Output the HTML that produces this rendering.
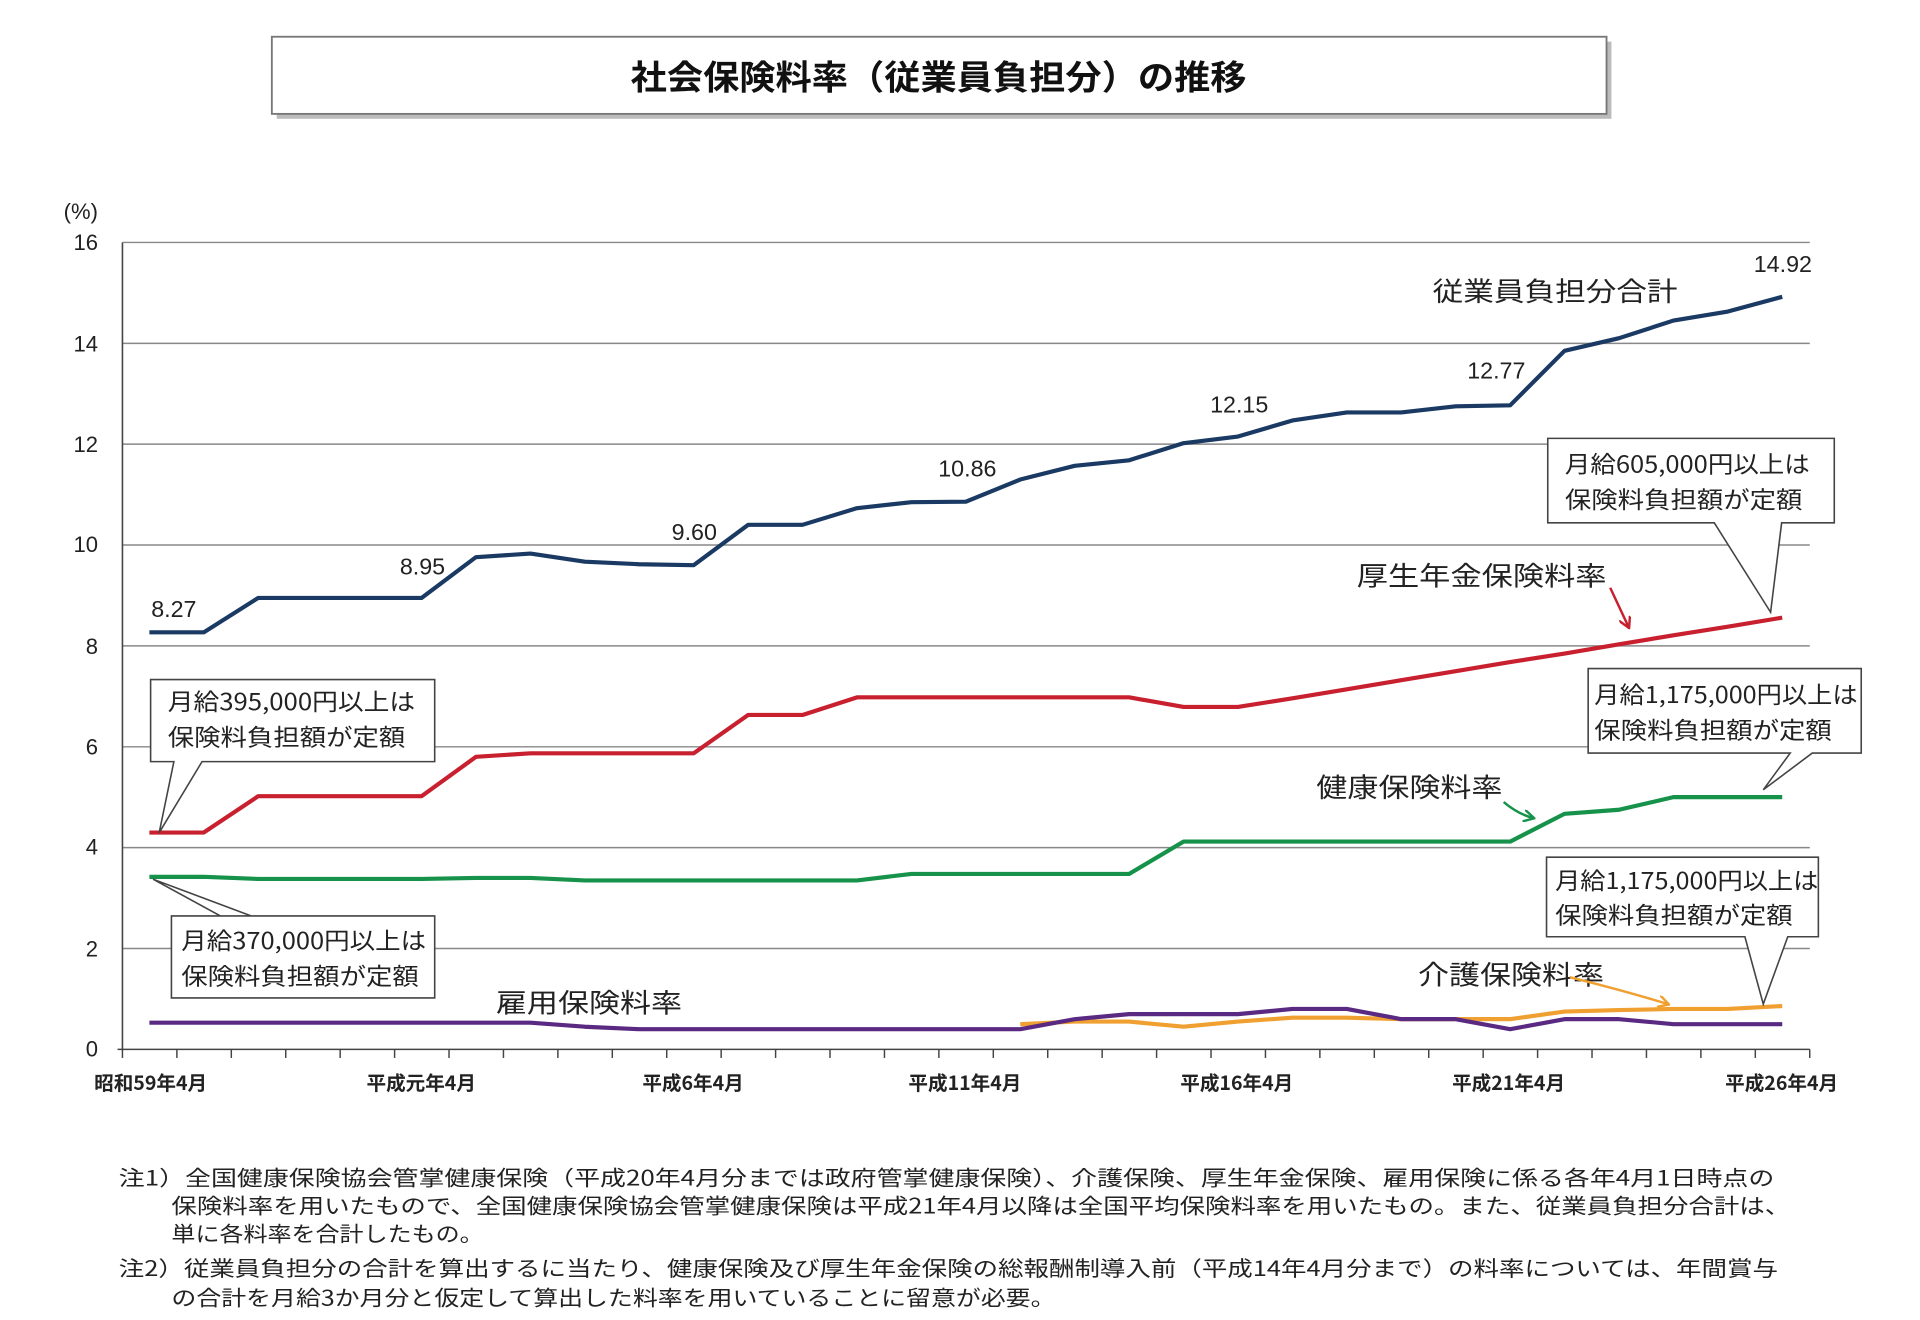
<!DOCTYPE html>
<html><head><meta charset="utf-8"><style>
html,body{margin:0;padding:0;background:#fff;width:1920px;height:1320px;overflow:hidden}
svg{display:block}
text{font-family:"Liberation Sans","Noto Sans CJK JP",sans-serif;fill:#222}
.j{font-family:"Noto Sans CJK JP","WenQuanYi Zen Hei",sans-serif}
.box{fill:#fff;stroke:#444;stroke-width:1.3}
</style></head><body>
<svg width="1920" height="1320" viewBox="0 0 1568 1078" preserveAspectRatio="none">
<defs>
<marker id="ar" markerWidth="10" markerHeight="10" refX="8" refY="5" orient="auto" markerUnits="userSpaceOnUse"><path d="M0,0 L9,5 L0,10" fill="none" stroke="context-stroke" stroke-width="2"/></marker>
</defs>
<rect x="226" y="34" width="1090" height="63" fill="#bbb"/>
<rect x="222" y="30" width="1090" height="63" fill="#fff" stroke="#777" stroke-width="1.5"/>
<text x="515" y="73" class="j" font-size="28" font-weight="bold" style="fill:#111" textLength="503" lengthAdjust="spacingAndGlyphs">社会保険料率（従業員負担分）の推移</text>

<g stroke="#888" stroke-width="1.2">
<line x1="100" y1="198" x2="1478" y2="198"/>
<line x1="100" y1="280.4" x2="1478" y2="280.4"/>
<line x1="100" y1="362.7" x2="1478" y2="362.7"/>
<line x1="100" y1="445.1" x2="1478" y2="445.1"/>
<line x1="100" y1="527.5" x2="1478" y2="527.5"/>
<line x1="100" y1="609.9" x2="1478" y2="609.9"/>
<line x1="100" y1="692.2" x2="1478" y2="692.2"/>
<line x1="100" y1="774.6" x2="1478" y2="774.6"/>
</g>
<line x1="100" y1="198" x2="100" y2="857" stroke="#444" stroke-width="1.3"/>
<line x1="96" y1="857" x2="1478" y2="857" stroke="#444" stroke-width="1.3"/>
<g id="ticks" stroke="#444" stroke-width="1.2"></g>
<g font-size="18" text-anchor="end">
<text x="80" y="204">16</text><text x="80" y="287">14</text><text x="80" y="369">12</text><text x="80" y="451">10</text>
<text x="80" y="534">8</text><text x="80" y="616">6</text><text x="80" y="698">4</text><text x="80" y="781">2</text><text x="80" y="863">0</text>
</g>
<text x="52" y="179" font-size="18">(%)</text>
<g font-size="16" text-anchor="middle" class="j" font-weight="bold">
<text x="123" y="890" class="j">昭和59年4月</text>
<text x="344" y="890" class="j">平成元年4月</text>
<text x="566" y="890" class="j">平成6年4月</text>
<text x="788" y="890" class="j">平成11年4月</text>
<text x="1010" y="890" class="j">平成16年4月</text>
<text x="1232" y="890" class="j">平成21年4月</text>
<text x="1455" y="890" class="j">平成26年4月</text>
</g>
<g id="series" fill="none" stroke-width="3.4" stroke-linejoin="round"></g>

<g font-size="19" text-anchor="middle">
<text x="142" y="504">8.27</text><text x="345" y="469">8.95</text><text x="567" y="441">9.60</text>
<text x="790" y="389">10.86</text><text x="1012" y="337">12.15</text><text x="1222" y="309">12.77</text><text x="1456" y="222">14.92</text>
</g>
<g font-size="22" class="j">
<text x="1170" y="246" class="j" textLength="200" lengthAdjust="spacingAndGlyphs">従業員負担分合計</text>
<text x="1108" y="478" class="j" textLength="204" lengthAdjust="spacingAndGlyphs">厚生年金保険料率</text>
<text x="1075" y="651" class="j" textLength="152" lengthAdjust="spacingAndGlyphs">健康保険料率</text>
<text x="1158" y="804" class="j" textLength="152" lengthAdjust="spacingAndGlyphs">介護保険料率</text>
<text x="405" y="827" class="j" textLength="152" lengthAdjust="spacingAndGlyphs">雇用保険料率</text>
</g>
<path d="M1315,480 L1330,512" stroke="#c8202f" stroke-width="2" fill="none" marker-end="url(#ar)"/>
<path d="M1228,655 Q1240,665 1252,668" stroke="#16924a" stroke-width="2" fill="none" marker-end="url(#ar)"/>
<path d="M1282,798 Q1330,810 1362,820" stroke="#f0a030" stroke-width="2" fill="none" marker-end="url(#ar)"/>

<g font-size="19" class="j">
<path class="box" d="M123,555 H355 V622 H165 L130,680 L142,622 H123 Z"/>
<text x="137" y="580" class="j" textLength="202" lengthAdjust="spacingAndGlyphs">月給395,000円以上は</text><text x="137" y="609" class="j" textLength="194" lengthAdjust="spacingAndGlyphs">保険料負担額が定額</text>
<path class="box" d="M140,748 H205 L125,718 L180,748 H355 V815 H140 Z"/>
<text x="148" y="775" class="j" textLength="200" lengthAdjust="spacingAndGlyphs">月給370,000円以上は</text><text x="148" y="804" class="j" textLength="194" lengthAdjust="spacingAndGlyphs">保険料負担額が定額</text>
<path class="box" d="M1264,358 H1498 V427 H1455 L1446,500 L1400,427 H1264 Z"/>
<text x="1278" y="386" class="j" textLength="200" lengthAdjust="spacingAndGlyphs">月給605,000円以上は</text><text x="1278" y="415" class="j" textLength="194" lengthAdjust="spacingAndGlyphs">保険料負担額が定額</text>
<path class="box" d="M1297,546 H1520 V615 H1480 L1440,645 L1462,615 H1297 Z"/>
<text x="1302" y="574" class="j" textLength="215" lengthAdjust="spacingAndGlyphs">月給1,175,000円以上は</text><text x="1302" y="603" class="j" textLength="194" lengthAdjust="spacingAndGlyphs">保険料負担額が定額</text>
<path class="box" d="M1263,700 H1485 V765 H1460 L1440,820 L1425,765 H1263 Z"/>
<text x="1270" y="726" class="j" textLength="215" lengthAdjust="spacingAndGlyphs">月給1,175,000円以上は</text><text x="1270" y="754" class="j" textLength="194" lengthAdjust="spacingAndGlyphs">保険料負担額が定額</text>
</g>

<g font-size="17" class="j">
<text x="97" y="968" class="j" textLength="1352" lengthAdjust="spacingAndGlyphs">注1）全国健康保険協会管掌健康保険（平成20年4月分までは政府管掌健康保険）、介護保険、厚生年金保険、雇用保険に係る各年4月1日時点の</text>
<text x="140" y="991" class="j" textLength="1322" lengthAdjust="spacingAndGlyphs">保険料率を用いたもので、全国健康保険協会管掌健康保険は平成21年4月以降は全国平均保険料率を用いたもの。また、従業員負担分合計は、</text>
<text x="140" y="1014" class="j" textLength="255" lengthAdjust="spacingAndGlyphs">単に各料率を合計したもの。</text>
<text x="97" y="1042" class="j" textLength="1355" lengthAdjust="spacingAndGlyphs">注2）従業員負担分の合計を算出するに当たり、健康保険及び厚生年金保険の総報酬制導入前（平成14年4月分まで）の料率については、年間賞与</text>
<text x="140" y="1066" class="j" textLength="722" lengthAdjust="spacingAndGlyphs">の合計を月給3か月分と仮定して算出した料率を用いていることに留意が必要。</text>
</g>
</svg>
<script>
(function(){
var NS="http://www.w3.org/2000/svg";
function X(i){return 122+44.45*i}
function Y(v){return 857-41.19*v}
var t=document.getElementById("ticks");
for(var k=0;k<=31;k++){var l=document.createElementNS(NS,"line");var x=100+44.45*k;l.setAttribute("x1",x);l.setAttribute("x2",x);l.setAttribute("y1",857);l.setAttribute("y2",864);t.appendChild(l);}
var S=[
["#1a3a64",0,[8.27,8.27,8.95,8.95,8.95,8.95,9.76,9.83,9.67,9.62,9.60,10.4,10.4,10.73,10.85,10.86,11.3,11.57,11.68,12.02,12.15,12.47,12.63,12.63,12.75,12.77,13.85,14.1,14.45,14.63,14.92]],
["#c8202f",0,[4.3,4.3,5.02,5.02,5.02,5.02,5.8,5.87,5.87,5.87,5.87,6.63,6.63,6.98,6.98,6.98,6.98,6.98,6.98,6.79,6.79,6.96,7.14,7.32,7.5,7.68,7.85,8.03,8.21,8.38,8.56]],
["#16924a",0,[3.42,3.42,3.38,3.38,3.38,3.38,3.4,3.4,3.35,3.35,3.35,3.35,3.35,3.35,3.48,3.48,3.48,3.48,3.48,4.12,4.12,4.12,4.12,4.12,4.12,4.12,4.67,4.75,5.0,5.0,5.0]],
["#f0a030",16,[0.5,0.55,0.55,0.45,0.55,0.63,0.63,0.6,0.6,0.6,0.75,0.78,0.8,0.8,0.86]],
["#5a2a82",0,[0.53,0.53,0.53,0.53,0.53,0.53,0.53,0.53,0.45,0.4,0.4,0.4,0.4,0.4,0.4,0.4,0.4,0.6,0.7,0.7,0.7,0.8,0.8,0.6,0.6,0.4,0.6,0.6,0.5,0.5,0.5]]
];
var g=document.getElementById("series");
S.forEach(function(s){var d="";s[2].forEach(function(v,j){d+=(j?"L":"M")+X(s[1]+j).toFixed(1)+","+Y(v).toFixed(1)});
var p=document.createElementNS(NS,"path");p.setAttribute("d",d);p.setAttribute("stroke",s[0]);g.appendChild(p);});
})();
</script>
</body></html>
